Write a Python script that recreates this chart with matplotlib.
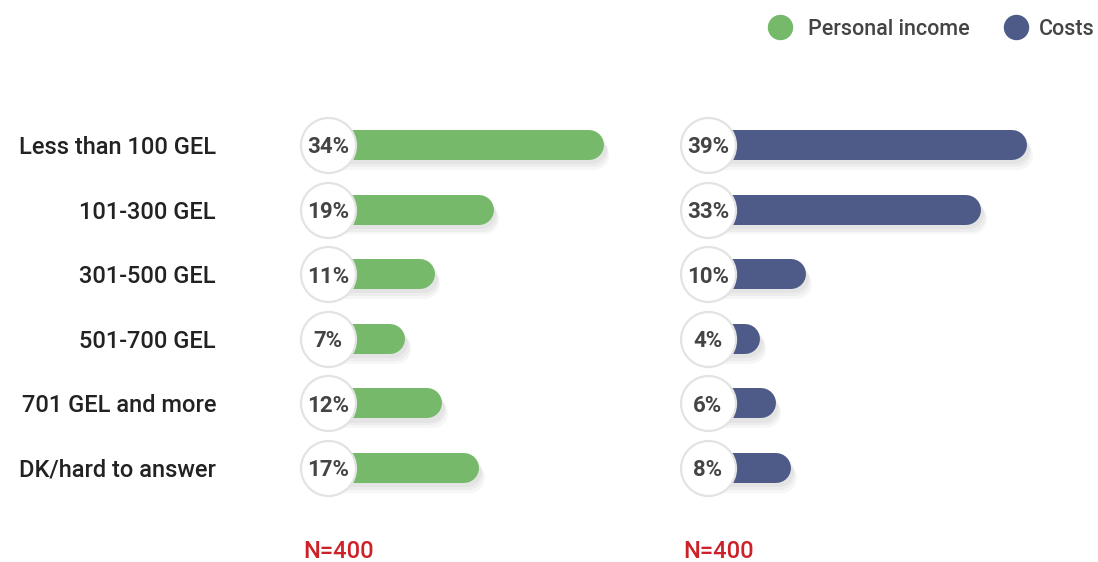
import matplotlib
matplotlib.use("Agg")
import matplotlib.pyplot as plt
import matplotlib.patheffects as pe

categories = ["Less than 100 GEL", "101-300 GEL", "301-500 GEL",
              "501-700 GEL", "701 GEL and more", "DK/hard to answer"]
personal_income = [34, 19, 11, 7, 12, 17]
costs = [39, 33, 10, 4, 6, 8]
series_names = ["Personal income", "Costs"]
sample_labels = ["N=400", "N=400"]

GREEN = "#76B96B"
NAVY = "#4E5B88"
RED = "#CC2129"
TXT = "#222222"
PCT = "#444444"

FONT = ['Roboto', 'DejaVu Sans']
plt.rcParams['font.family'] = FONT

W, H = 1098, 562
fig = plt.figure(figsize=(W / 100, H / 100), dpi=100)

def px_axes(x0, x1, y0, y1):
    return fig.add_axes([x0 / W, 1 - y1 / H, (x1 - x0) / W, (y1 - y0) / H])

top_px, bot_px = 100, 510
row0, row_step = 145, 64.6
ylim = (5 + (bot_px - 468) / row_step, -(row0 - top_px) / row_step)

panels = [
    dict(vals=personal_income, color=GREEN, x0=290, x1=640, zero=354, scale=7.35, circ=328),
    dict(vals=costs, color=NAVY, x0=670, x1=1060, zero=730, scale=7.62, circ=708),
]

BAR_PX = 30
CIRC_PX = 55

shadow = [pe.SimpleLineShadow(offset=(dx, dy), shadow_color="#000000", alpha=0.035)
          for dx, dy in [(4, -7), (3, -5), (2, -3)]]

for i, p in enumerate(panels):
    ax = px_axes(p["x0"], p["x1"], top_px, bot_px)
    xmin = -(p["zero"] - p["x0"]) / p["scale"]
    xmax = xmin + (p["x1"] - p["x0"]) / p["scale"]
    ax.set_xlim(xmin, xmax)
    ax.set_ylim(*ylim)
    for s in ax.spines.values():
        s.set_visible(False)
    ax.set_xticks([])
    cstart = -(p["zero"] - p["circ"]) / p["scale"]
    cap = (BAR_PX / 2) / p["scale"]
    lw_pt = BAR_PX * 72 / 100
    for j, v in enumerate(p["vals"]):
        ax.plot([cstart, v - cap], [j, j], color=p["color"], lw=lw_pt,
                solid_capstyle="round", zorder=2,
                path_effects=shadow + [pe.Normal()])
    ax.scatter([cstart] * len(p["vals"]), range(len(p["vals"])),
               s=(CIRC_PX * 72 / 100) ** 2, facecolor="white",
               edgecolor="#E3E3E3", linewidth=1.6, zorder=3)
    for j, v in enumerate(p["vals"]):
        ax.text(cstart, j, f"{v}%", ha="center", va="center_baseline",
                fontsize=16, fontweight="bold", color=PCT, zorder=4)
    if i == 0:
        ax.set_yticks(range(len(categories)))
        ax.set_yticklabels(categories, fontsize=17, color=TXT, fontweight="medium")
        ax.tick_params(axis="y", length=0, pad=(p["x0"] - 216) * 72 / 100)
    else:
        ax.set_yticks([])
    fig.text((p["circ"] - 25) / W, 1 - 551 / H, sample_labels[i], color=RED,
             fontsize=17, fontweight="medium", ha="left", va="center")

# legend
leg = [(780, 808, GREEN, series_names[0]), (1016, 1039, NAVY, series_names[1])]
lax = fig.add_axes([0, 0, 1, 1], zorder=-1)
lax.set_xlim(0, W)
lax.set_ylim(H, 0)
lax.axis("off")
for cx, tx, col, name in leg:
    lax.scatter([cx], [27], s=(24 * 72 / 100) ** 2, color=col)
    lax.text(tx, 27, name, fontsize=15.5, color="#444444", ha="left",
             va="center_baseline", fontweight="medium")

fig.savefig("out.png", dpi=100, facecolor="white")
